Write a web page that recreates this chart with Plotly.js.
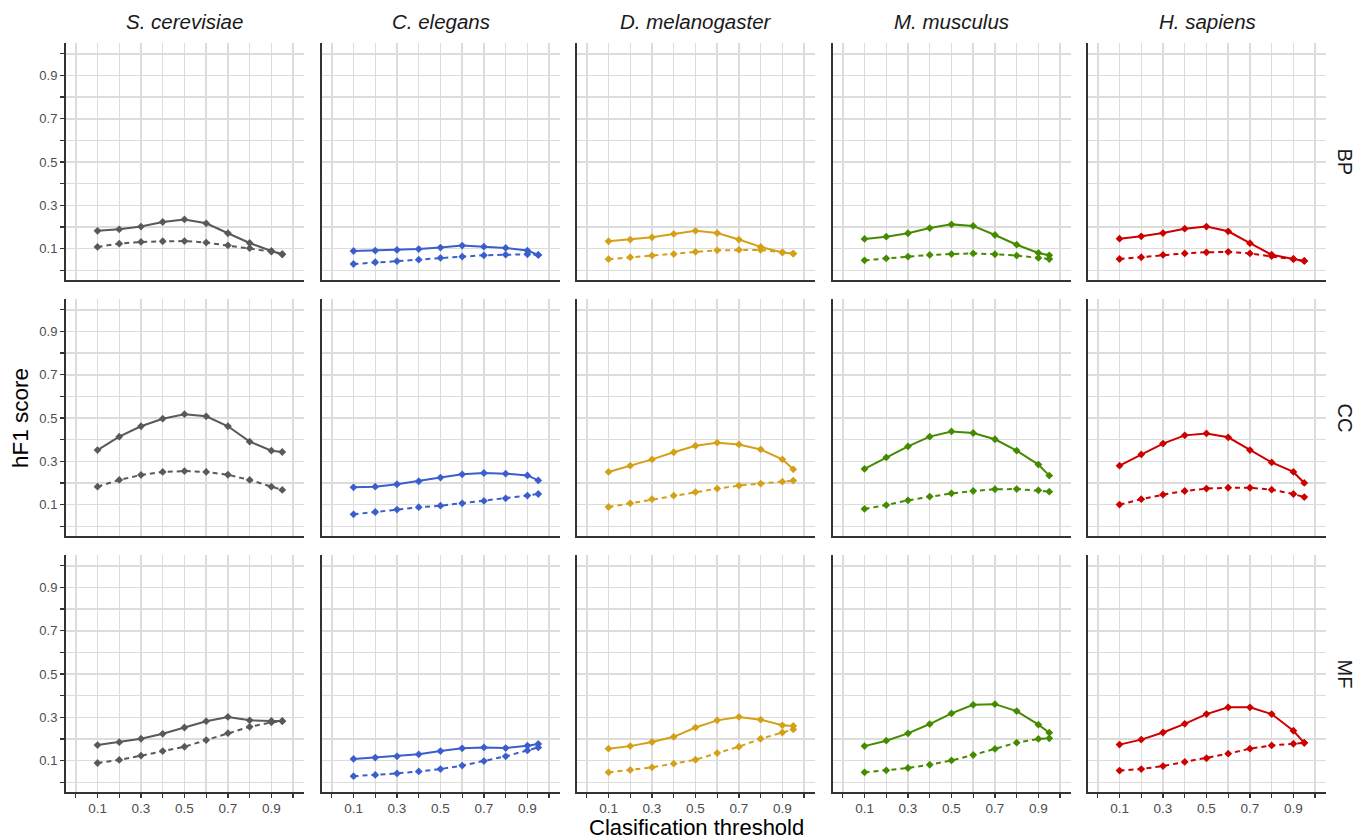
<!DOCTYPE html>
<html>
<head>
<meta charset="utf-8">
<script src="https://cdn.plot.ly/plotly-3.0.1.min.js"></script>
<style>html,body{margin:0;padding:0;background:#fff;}#chart{width:1360px;height:839px;}</style>
</head>
<body>
<div id="chart"></div>
<script>
// ---------- data ----------
const thresholds = [0.1, 0.2, 0.3, 0.4, 0.5, 0.6, 0.7, 0.8, 0.9, 0.95];
const species = ["S. cerevisiae", "C. elegans", "D. melanogaster", "M. musculus", "H. sapiens"];
const ontologies = ["BP", "CC", "MF"];
const tickValues = [0, 0.1, 0.2, 0.3, 0.4, 0.5, 0.6, 0.7, 0.8, 0.9, 1.0];
const tickLabels = ["", "0.1", "", "0.3", "", "0.5", "", "0.7", "", "0.9", ""];

const scer_BP_solid  = [0.182, 0.189, 0.202, 0.223, 0.235, 0.217, 0.171, 0.126, 0.089, 0.074];
const scer_BP_dashed = [0.108, 0.123, 0.131, 0.134, 0.135, 0.128, 0.115, 0.102, 0.086, 0.074];
const scer_CC_solid  = [0.352, 0.414, 0.462, 0.497, 0.518, 0.508, 0.462, 0.391, 0.349, 0.343];
const scer_CC_dashed = [0.183, 0.214, 0.237, 0.251, 0.255, 0.251, 0.238, 0.214, 0.183, 0.168];
const scer_MF_solid  = [0.172, 0.185, 0.201, 0.224, 0.253, 0.282, 0.302, 0.286, 0.283, 0.283];
const scer_MF_dashed = [0.089, 0.103, 0.123, 0.144, 0.164, 0.195, 0.227, 0.256, 0.277, 0.282];

const cele_BP_solid  = [0.089, 0.091, 0.094, 0.098, 0.105, 0.114, 0.109, 0.103, 0.091, 0.071];
const cele_BP_dashed = [0.029, 0.037, 0.042, 0.049, 0.057, 0.063, 0.069, 0.072, 0.074, 0.071];
const cele_CC_solid  = [0.180, 0.183, 0.194, 0.208, 0.225, 0.240, 0.246, 0.243, 0.235, 0.212];
const cele_CC_dashed = [0.055, 0.066, 0.077, 0.088, 0.095, 0.106, 0.117, 0.129, 0.142, 0.149];
const cele_MF_solid  = [0.108, 0.114, 0.120, 0.129, 0.144, 0.157, 0.161, 0.158, 0.169, 0.177];
const cele_MF_dashed = [0.028, 0.034, 0.041, 0.050, 0.061, 0.077, 0.098, 0.120, 0.147, 0.161];

const dmel_BP_solid  = [0.134, 0.142, 0.152, 0.168, 0.182, 0.172, 0.142, 0.108, 0.082, 0.077];
const dmel_BP_dashed = [0.051, 0.060, 0.068, 0.075, 0.085, 0.092, 0.094, 0.094, 0.083, 0.077];
const dmel_CC_solid  = [0.251, 0.280, 0.309, 0.342, 0.372, 0.386, 0.378, 0.355, 0.309, 0.263];
const dmel_CC_dashed = [0.089, 0.106, 0.125, 0.142, 0.158, 0.174, 0.188, 0.197, 0.206, 0.211];
const dmel_MF_solid  = [0.155, 0.167, 0.186, 0.210, 0.253, 0.286, 0.302, 0.289, 0.263, 0.260];
const dmel_MF_dashed = [0.046, 0.057, 0.069, 0.086, 0.104, 0.135, 0.164, 0.201, 0.230, 0.244];

const mmus_BP_solid  = [0.145, 0.155, 0.171, 0.195, 0.212, 0.205, 0.163, 0.118, 0.080, 0.069];
const mmus_BP_dashed = [0.046, 0.055, 0.063, 0.071, 0.075, 0.078, 0.074, 0.068, 0.057, 0.052];
const mmus_CC_solid  = [0.265, 0.318, 0.369, 0.414, 0.438, 0.431, 0.402, 0.349, 0.285, 0.234];
const mmus_CC_dashed = [0.080, 0.098, 0.120, 0.137, 0.152, 0.163, 0.171, 0.172, 0.166, 0.160];
const mmus_MF_solid  = [0.167, 0.192, 0.226, 0.269, 0.318, 0.358, 0.361, 0.329, 0.266, 0.229];
const mmus_MF_dashed = [0.046, 0.055, 0.066, 0.081, 0.101, 0.126, 0.154, 0.183, 0.200, 0.203];

const hsap_BP_solid  = [0.146, 0.157, 0.172, 0.192, 0.202, 0.180, 0.125, 0.072, 0.052, 0.043];
const hsap_BP_dashed = [0.052, 0.060, 0.071, 0.078, 0.083, 0.085, 0.078, 0.065, 0.052, 0.043];
const hsap_CC_solid  = [0.280, 0.332, 0.382, 0.420, 0.429, 0.411, 0.352, 0.295, 0.251, 0.200];
const hsap_CC_dashed = [0.100, 0.125, 0.146, 0.163, 0.174, 0.178, 0.178, 0.169, 0.149, 0.135];
const hsap_MF_solid  = [0.174, 0.197, 0.230, 0.270, 0.315, 0.346, 0.346, 0.315, 0.238, 0.182];
const hsap_MF_dashed = [0.054, 0.061, 0.075, 0.094, 0.111, 0.132, 0.155, 0.170, 0.178, 0.182];

// ---------- assembling ----------
const seriesTable = {
  "S. cerevisiae":   {BP: [scer_BP_solid, scer_BP_dashed], CC: [scer_CC_solid, scer_CC_dashed], MF: [scer_MF_solid, scer_MF_dashed]},
  "C. elegans":      {BP: [cele_BP_solid, cele_BP_dashed], CC: [cele_CC_solid, cele_CC_dashed], MF: [cele_MF_solid, cele_MF_dashed]},
  "D. melanogaster": {BP: [dmel_BP_solid, dmel_BP_dashed], CC: [dmel_CC_solid, dmel_CC_dashed], MF: [dmel_MF_solid, dmel_MF_dashed]},
  "M. musculus":     {BP: [mmus_BP_solid, mmus_BP_dashed], CC: [mmus_CC_solid, mmus_CC_dashed], MF: [mmus_MF_solid, mmus_MF_dashed]},
  "H. sapiens":      {BP: [hsap_BP_solid, hsap_BP_dashed], CC: [hsap_CC_solid, hsap_CC_dashed], MF: [hsap_MF_solid, hsap_MF_dashed]}
};

const colors = ["#595959", "#3A5FCD", "#D4A017", "#458B00", "#CD0000"];
const W = 1360, H = 839;
const colLeft = [66, 322, 577, 833, 1088];
const panelW = 238;
const rowTop = [43, 299, 555];
const panelH = 237;
const FONT = "Liberation Sans, Arial, Helvetica, sans-serif";

const traces = [];
const layout = {
  width: W, height: H,
  margin: {l: 0, r: 0, t: 0, b: 0},
  paper_bgcolor: "#ffffff",
  plot_bgcolor: "#ffffff",
  showlegend: false,
  font: {family: FONT, color: "#4D4D4D"},
  annotations: []
};

ontologies.forEach((ont, r) => {
  species.forEach((sp, c) => {
    const idx = r * 5 + c + 1;
    const xa = "x" + (idx === 1 ? "" : idx);
    const ya = "y" + (idx === 1 ? "" : idx);
    const [solid, dashed] = seriesTable[sp][ont];
    [[solid, "solid", "main"], [dashed, "5px,4px", "baseline"]].forEach(([vals, dash, nm]) => {
      traces.push({
        type: "scatter", mode: "lines+markers",
        x: thresholds, y: vals,
        xaxis: xa, yaxis: ya,
        name: sp + " " + ont + " " + nm,
        line: {color: colors[c], width: 2, dash: dash},
        marker: {symbol: "diamond", size: 6, color: colors[c]},
        hoverinfo: "x+y"
      });
    });
    const bottom = r === 2, left = c === 0;
    layout["xaxis" + (idx === 1 ? "" : idx)] = {
      domain: [colLeft[c] / W, (colLeft[c] + panelW) / W],
      anchor: ya,
      range: [-0.045, 1.05],
      tickmode: "array", tickvals: tickValues, ticktext: tickLabels,
      showticklabels: bottom,
      ticks: bottom ? "outside" : "", ticklen: 4, tickwidth: 1.3, tickcolor: "#333333",
      ticklabelstandoff: -1,
      tickfont: {size: 13.5, color: "#4D4D4D", family: FONT},
      showline: true, linecolor: "#333333", linewidth: 2,
      showgrid: true, gridcolor: "#DCDCDC", gridwidth: 1.5,
      zeroline: false, fixedrange: true
    };
    layout["yaxis" + (idx === 1 ? "" : idx)] = {
      domain: [1 - (rowTop[r] + panelH) / H, 1 - rowTop[r] / H],
      anchor: xa,
      range: [-0.045, 1.05],
      tickmode: "array", tickvals: tickValues, ticktext: tickLabels,
      showticklabels: left,
      ticks: left ? "outside" : "", ticklen: 4, tickwidth: 1.3, tickcolor: "#333333",
      tickfont: {size: 13, color: "#4D4D4D", family: FONT},
      showline: true, linecolor: "#333333", linewidth: 2,
      showgrid: true, gridcolor: "#DCDCDC", gridwidth: 1.5,
      zeroline: false, fixedrange: true
    };
  });
});

// strip labels (columns)
species.forEach((sp, c) => {
  layout.annotations.push({
    xref: "paper", yref: "paper",
    x: (colLeft[c] + panelW / 2) / W, y: 1 - 22 / H,
    text: "<i>" + sp + "</i>", showarrow: false,
    xanchor: "center", yanchor: "middle",
    font: {size: 20.5, color: "#1A1A1A", family: FONT}
  });
});
// strip labels (rows)
ontologies.forEach((ont, r) => {
  layout.annotations.push({
    xref: "paper", yref: "paper",
    x: 1345 / W, y: 1 - (rowTop[r] + panelH / 2) / H,
    text: ont, showarrow: false, textangle: 90,
    xanchor: "center", yanchor: "middle",
    font: {size: 20, color: "#1A1A1A", family: FONT}
  });
});
// axis titles
layout.annotations.push({
  xref: "paper", yref: "paper", x: 20 / W, y: 1 - 418 / H,
  text: "hF1 score", showarrow: false, textangle: -90,
  xanchor: "center", yanchor: "middle",
  font: {size: 22.5, color: "#000000", family: FONT}
});
layout.annotations.push({
  xref: "paper", yref: "paper", x: 696 / W, y: 0,
  text: "Clasification threshold", showarrow: false,
  xanchor: "center", yanchor: "bottom", yshift: -3,
  font: {size: 22, color: "#000000", family: FONT}
});

Plotly.newPlot("chart", traces, layout, {displayModeBar: false, staticPlot: true});
</script>
</body>
</html>
